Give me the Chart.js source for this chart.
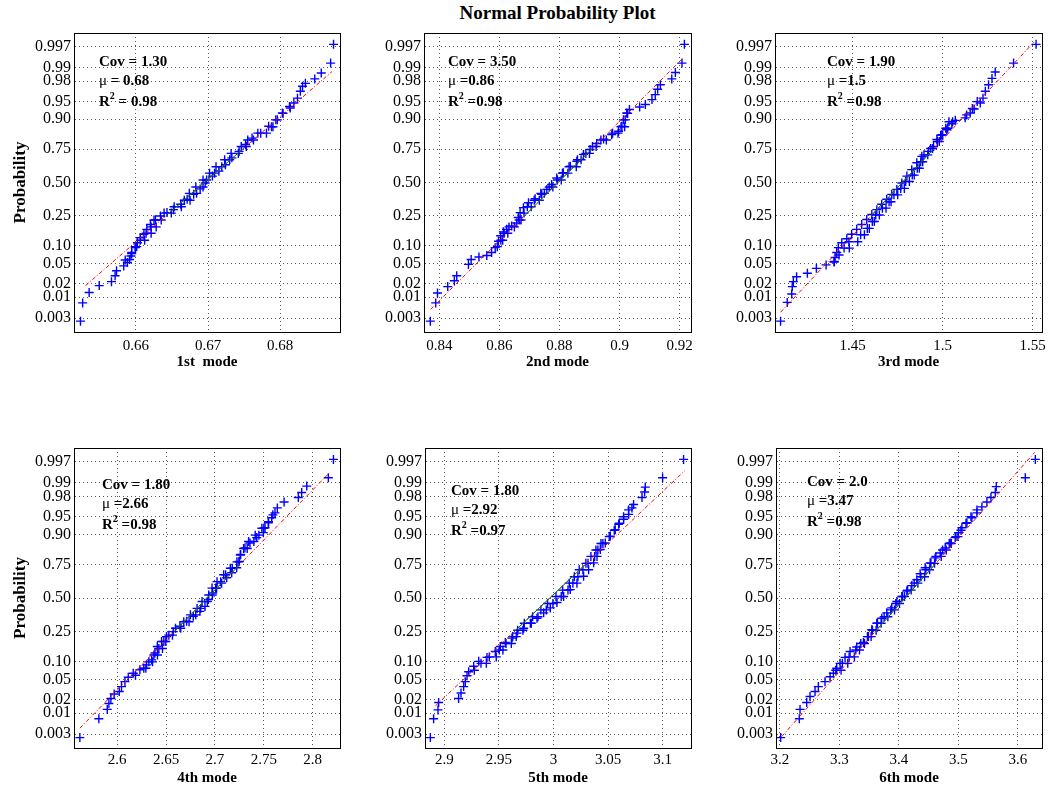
<!DOCTYPE html>
<html>
<head>
<meta charset="utf-8">
<script src="https://cdn.jsdelivr.net/npm/chart.js@4.4.1/dist/chart.umd.min.js"></script>
<style>
  body { margin: 0; background: #fff; overflow: hidden; width: 1049px; height: 789px; position: relative; }
  canvas { position: absolute; }
  #title { position: absolute; left: 0; top: 3px; width: 1115px; text-align: center;
           font: bold 19px "Liberation Serif", "Times New Roman", serif; line-height: 20px; }
</style>
</head>
<body>
<div id="title">Normal Probability Plot</div>
<script>
// probability axis ticks
const probTicks = [0.003, 0.01, 0.02, 0.05, 0.10, 0.25, 0.50, 0.75, 0.90, 0.95, 0.98, 0.99, 0.997];
const probLabels = ['0.003', '0.01', '0.02', '0.05', '0.10', '0.25', '0.50', '0.75', '0.90', '0.95', '0.98', '0.99', '0.997'];

const modeNames = ['1st  mode', '2nd mode', '3rd mode', '4th mode', '5th mode', '6th mode'];
const covText = ['1.30', '3.50', '1.90', '1.80', '1.80', '2.0'];
const muText = [' = 0.68', ' =0.86', ' =1.5', ' =2.66', ' =2.92', ' =3.47'];
const r2Text = [' = 0.98', ' =0.98', ' =0.98', ' =0.98', ' =0.97', ' =0.98'];

// x axis ticks and limits
const ticks1 = [0.66, 0.67, 0.68];
const ticks2 = [0.84, 0.86, 0.88, 0.9, 0.92];
const ticks3 = [1.45, 1.5, 1.55];
const ticks4 = [2.6, 2.65, 2.7, 2.75, 2.8];
const ticks5 = [2.9, 2.95, 3, 3.05, 3.1];
const ticks6 = [3.2, 3.3, 3.4, 3.5, 3.6];
const range1 = [0.6514, 0.6883];
const range2 = [0.8349, 0.9238];
const range3 = [1.4068, 1.5552];
const range4 = [2.5558, 2.8279];
const range5 = [2.8823, 3.1260];
const range6 = [3.1933, 3.6404];

// sample values (x) and their normal quantile (q) on the probability axis
const mode1X = [0.6523, 0.6526, 0.6535, 0.6549, 0.6566, 0.6571, 0.6573, 0.6583, 0.6588, 0.6591, 0.6593, 0.6594, 0.6599, 0.6602, 0.6606, 0.6611, 0.6615, 0.6620, 0.6627, 0.6634, 0.6643, 0.6652, 0.6662, 0.6671, 0.6680, 0.6689, 0.6696, 0.6706, 0.6715, 0.6724, 0.6733, 0.6743, 0.6752, 0.6761, 0.6773, 0.6784, 0.6794, 0.6803, 0.6814, 0.6819, 0.6824, 0.6828, 0.6831, 0.6835, 0.6848, 0.6857, 0.6870, 0.6874];
const mode1Q = [-2.81, -2.44, -2.23, -2.09, -2.01, -1.89, -1.79, -1.69, -1.62, -1.56, -1.49, -1.42, -1.32, -1.22, -1.12, -1.05, -0.95, -0.85, -0.76, -0.68, -0.61, -0.55, -0.44, -0.34, -0.24, -0.13, -0.01, 0.13, 0.23, 0.36, 0.50, 0.63, 0.77, 0.90, 1.00, 1.14, 1.27, 1.41, 1.51, 1.61, 1.71, 1.85, 1.95, 2.01, 2.10, 2.22, 2.42, 2.80];
// extra points inside the dense middle band
const band1X = [0.6585, 0.6594, 0.6599, 0.6601, 0.6606, 0.6612, 0.6614, 0.6621, 0.6621, 0.6628, 0.6625, 0.6635, 0.6639, 0.6649, 0.6653, 0.6663, 0.6667, 0.6675, 0.6674, 0.6684, 0.6683, 0.6693, 0.6693, 0.6698, 0.6702, 0.6709, 0.6711, 0.6719, 0.6723, 0.6730, 0.6732, 0.6742, 0.6746, 0.6753, 0.6755, 0.6763, 0.6769, 0.6781, 0.6788, 0.6790, 0.6796, 0.6804, 0.6813];
const band1Q = [-1.57, -1.44, -1.30, -1.30, -1.17, -1.17, -1.03, -1.03, -0.90, -0.90, -0.76, -0.76, -0.62, -0.62, -0.49, -0.49, -0.36, -0.36, -0.22, -0.22, -0.09, -0.09, 0.05, 0.05, 0.19, 0.19, 0.32, 0.32, 0.46, 0.46, 0.59, 0.59, 0.73, 0.73, 0.86, 0.86, 1.00, 1.00, 1.13, 1.13, 1.27, 1.40, 1.54];

const mode2X = [0.8370, 0.8388, 0.8394, 0.8428, 0.8450, 0.8458, 0.8497, 0.8506, 0.8532, 0.8558, 0.8574, 0.8586, 0.8597, 0.8604, 0.8613, 0.8624, 0.8641, 0.8658, 0.8663, 0.8669, 0.8680, 0.8697, 0.8719, 0.8741, 0.8758, 0.8774, 0.8791, 0.8813, 0.8836, 0.8858, 0.8880, 0.8902, 0.8924, 0.8947, 0.8974, 0.8997, 0.9008, 0.9013, 0.9024, 0.9033, 0.9067, 0.9086, 0.9108, 0.9119, 0.9127, 0.9136, 0.9174, 0.9186, 0.9208, 0.9216];
const mode2Q = [-2.81, -2.44, -2.24, -2.11, -1.99, -1.89, -1.66, -1.56, -1.51, -1.48, -1.42, -1.32, -1.19, -1.08, -1.00, -0.95, -0.88, -0.82, -0.71, -0.61, -0.51, -0.41, -0.33, -0.24, -0.14, -0.04, 0.09, 0.20, 0.33, 0.43, 0.57, 0.67, 0.79, 0.88, 0.97, 1.04, 1.14, 1.27, 1.41, 1.48, 1.53, 1.58, 1.68, 1.78, 1.89, 1.98, 2.10, 2.23, 2.42, 2.80];
const band2X = [0.8593, 0.8605, 0.8611, 0.8616, 0.8628, 0.8632, 0.8650, 0.8666, 0.8672, 0.8682, 0.8693, 0.8706, 0.8716, 0.8733, 0.8738, 0.8750, 0.8766, 0.8778, 0.8793, 0.8806, 0.8810, 0.8828, 0.8832, 0.8856, 0.8860, 0.8872, 0.8888, 0.8900, 0.8910, 0.8922, 0.8938, 0.8956, 0.8977, 0.8995, 0.9005, 0.9017, 0.9019, 0.9027];
const band2Q = [-1.30, -1.17, -1.17, -1.03, -1.03, -0.90, -0.90, -0.76, -0.76, -0.62, -0.49, -0.49, -0.36, -0.36, -0.22, -0.22, -0.09, -0.09, 0.05, 0.05, 0.19, 0.19, 0.32, 0.32, 0.46, 0.46, 0.59, 0.59, 0.73, 0.73, 0.86, 0.86, 1.00, 1.00, 1.13, 1.13, 1.27, 1.40];

const mode3X = [1.4099, 1.4136, 1.4161, 1.4164, 1.4170, 1.4188, 1.4248, 1.4298, 1.4352, 1.4398, 1.4402, 1.4411, 1.4420, 1.4439, 1.4467, 1.4494, 1.4522, 1.4550, 1.4578, 1.4606, 1.4634, 1.4661, 1.4689, 1.4717, 1.4745, 1.4773, 1.4801, 1.4828, 1.4856, 1.4884, 1.4921, 1.4949, 1.4968, 1.4995, 1.5023, 1.5051, 1.5070, 1.5125, 1.5153, 1.5175, 1.5209, 1.5224, 1.5237, 1.5255, 1.5274, 1.5292, 1.5394, 1.5519];
const mode3Q = [-2.81, -2.43, -2.26, -2.11, -2.01, -1.91, -1.84, -1.74, -1.67, -1.60, -1.52, -1.42, -1.32, -1.22, -1.14, -1.05, -0.95, -0.85, -0.75, -0.65, -0.55, -0.44, -0.34, -0.24, -0.14, -0.01, 0.13, 0.26, 0.40, 0.53, 0.63, 0.73, 0.87, 0.97, 1.07, 1.19, 1.26, 1.31, 1.41, 1.49, 1.61, 1.71, 1.85, 1.98, 2.11, 2.24, 2.42, 2.80];
const band3X = [1.4396, 1.4424, 1.4452, 1.4481, 1.4479, 1.4528, 1.4544, 1.4565, 1.4581, 1.4592, 1.4609, 1.4620, 1.4628, 1.4648, 1.4665, 1.4685, 1.4702, 1.4713, 1.4729, 1.4750, 1.4767, 1.4787, 1.4794, 1.4815, 1.4831, 1.4842, 1.4859, 1.4870, 1.4878, 1.4889, 1.4896, 1.4917, 1.4933, 1.4944, 1.4970, 1.4981, 1.4989, 1.5000, 1.5017, 1.5028, 1.5035, 1.5055, 1.5133, 1.5165, 1.5192];
const band3Q = [-1.61, -1.47, -1.33, -1.33, -1.20, -1.20, -1.06, -1.06, -0.93, -0.93, -0.79, -0.79, -0.66, -0.66, -0.52, -0.52, -0.39, -0.39, -0.25, -0.25, -0.12, -0.12, 0.02, 0.02, 0.15, 0.15, 0.29, 0.29, 0.42, 0.42, 0.56, 0.56, 0.69, 0.69, 0.83, 0.83, 0.96, 0.96, 1.10, 1.10, 1.23, 1.23, 1.37, 1.50, 1.64];

const mode4X = [2.5618, 2.5812, 2.5898, 2.5915, 2.5935, 2.5969, 2.6021, 2.6044, 2.6079, 2.6113, 2.6164, 2.6232, 2.6300, 2.6352, 2.6386, 2.6410, 2.6454, 2.6505, 2.6573, 2.6642, 2.6710, 2.6778, 2.6846, 2.6898, 2.6932, 2.6976, 2.7017, 2.7068, 2.7120, 2.7171, 2.7222, 2.7249, 2.7263, 2.7307, 2.7358, 2.7427, 2.7495, 2.7512, 2.7546, 2.7580, 2.7614, 2.7638, 2.7707, 2.7853, 2.7887, 2.7939, 2.8160, 2.8212];
const mode4Q = [-2.82, -2.44, -2.25, -2.13, -2.03, -1.94, -1.89, -1.79, -1.69, -1.60, -1.52, -1.45, -1.35, -1.25, -1.11, -0.98, -0.88, -0.78, -0.68, -0.57, -0.47, -0.37, -0.27, -0.17, -0.03, 0.10, 0.20, 0.30, 0.41, 0.51, 0.61, 0.74, 0.88, 1.01, 1.11, 1.22, 1.32, 1.42, 1.52, 1.62, 1.72, 1.82, 1.94, 2.03, 2.13, 2.26, 2.43, 2.80];
const band4X = [2.6187, 2.6272, 2.6293, 2.6324, 2.6361, 2.6375, 2.6412, 2.6426, 2.6463, 2.6477, 2.6497, 2.6528, 2.6565, 2.6596, 2.6650, 2.6681, 2.6735, 2.6749, 2.6803, 2.6817, 2.6854, 2.6868, 2.6922, 2.6936, 2.6973, 2.6970, 2.7007, 2.7021, 2.7058, 2.7089, 2.7109, 2.7157, 2.7177, 2.7225, 2.7245, 2.7259, 2.7293, 2.7330, 2.7344, 2.7398, 2.7412, 2.7449, 2.7480, 2.7500, 2.7548, 2.7592];
const band4Q = [-1.56, -1.42, -1.42, -1.29, -1.29, -1.15, -1.15, -1.02, -1.02, -0.88, -0.88, -0.75, -0.75, -0.61, -0.61, -0.48, -0.48, -0.34, -0.34, -0.21, -0.21, -0.07, -0.07, 0.06, 0.06, 0.20, 0.20, 0.33, 0.33, 0.47, 0.47, 0.60, 0.60, 0.73, 0.73, 0.87, 1.00, 1.00, 1.14, 1.14, 1.27, 1.27, 1.41, 1.41, 1.54, 1.68];

const mode5X = [2.8872, 2.8902, 2.8942, 2.8948, 2.9131, 2.9153, 2.9177, 2.9192, 2.9208, 2.9223, 2.9269, 2.9315, 2.9391, 2.9467, 2.9513, 2.9559, 2.9620, 2.9666, 2.9727, 2.9788, 2.9849, 2.9910, 2.9971, 3.0032, 3.0093, 3.0154, 3.0215, 3.0276, 3.0322, 3.0368, 3.0399, 3.0429, 3.0475, 3.0521, 3.0566, 3.0597, 3.0643, 3.0689, 3.0719, 3.0734, 3.0811, 3.0835, 3.0841, 3.1000, 3.1192];
const mode5Q = [-2.82, -2.44, -2.26, -2.11, -2.03, -1.92, -1.79, -1.69, -1.57, -1.49, -1.38, -1.28, -1.20, -1.08, -0.98, -0.90, -0.81, -0.71, -0.61, -0.51, -0.41, -0.30, -0.20, -0.09, 0.03, 0.17, 0.30, 0.44, 0.57, 0.71, 0.84, 0.98, 1.11, 1.25, 1.38, 1.49, 1.59, 1.69, 1.82, 1.89, 2.03, 2.14, 2.24, 2.43, 2.80];
const band5X = [2.9275, 2.9336, 2.9385, 2.9412, 2.9476, 2.9504, 2.9537, 2.9565, 2.9614, 2.9626, 2.9659, 2.9672, 2.9720, 2.9733, 2.9797, 2.9809, 2.9858, 2.9885, 2.9934, 2.9946, 2.9995, 3.0023, 3.0071, 3.0084, 3.0133, 3.0145, 3.0178, 3.0191, 3.0224, 3.0236, 3.0270, 3.0297, 3.0316, 3.0343, 3.0377, 3.0389, 3.0407, 3.0435, 3.0453, 3.0511, 3.0557, 3.0603, 3.0642, 3.0688];
const band5Q = [-1.46, -1.32, -1.32, -1.19, -1.19, -1.05, -1.05, -0.92, -0.92, -0.78, -0.78, -0.65, -0.65, -0.51, -0.51, -0.38, -0.38, -0.24, -0.24, -0.11, -0.11, 0.03, 0.03, 0.16, 0.16, 0.30, 0.30, 0.43, 0.43, 0.57, 0.57, 0.70, 0.70, 0.84, 0.84, 0.97, 0.97, 1.10, 1.10, 1.24, 1.37, 1.51, 1.64, 1.78];

const mode6X = [3.2011, 3.2325, 3.2337, 3.2449, 3.2505, 3.2589, 3.2645, 3.2757, 3.2842, 3.2898, 3.2954, 3.3010, 3.3094, 3.3178, 3.3290, 3.3403, 3.3487, 3.3543, 3.3627, 3.3711, 3.3795, 3.3879, 3.3964, 3.4048, 3.4132, 3.4216, 3.4300, 3.4356, 3.4440, 3.4525, 3.4609, 3.4693, 3.4777, 3.4861, 3.4945, 3.5001, 3.5058, 3.5142, 3.5226, 3.5310, 3.5394, 3.5478, 3.5546, 3.5619, 3.5635, 3.6123, 3.6292];
const mode6Q = [-2.82, -2.44, -2.25, -2.11, -1.99, -1.89, -1.79, -1.69, -1.59, -1.52, -1.42, -1.32, -1.20, -1.08, -0.99, -0.90, -0.78, -0.64, -0.51, -0.41, -0.30, -0.20, -0.07, 0.03, 0.14, 0.25, 0.37, 0.49, 0.61, 0.71, 0.81, 0.91, 1.01, 1.11, 1.22, 1.32, 1.42, 1.52, 1.62, 1.72, 1.84, 1.94, 2.03, 2.13, 2.25, 2.43, 2.80];
const band6X = [3.2937, 3.3027, 3.3049, 3.3139, 3.3162, 3.3251, 3.3274, 3.3336, 3.3358, 3.3420, 3.3470, 3.3532, 3.3554, 3.3616, 3.3639, 3.3700, 3.3751, 3.3813, 3.3863, 3.3925, 3.3947, 3.4009, 3.4059, 3.4093, 3.4144, 3.4205, 3.4256, 3.4318, 3.4368, 3.4430, 3.4452, 3.4514, 3.4537, 3.4598, 3.4621, 3.4710, 3.4733, 3.4795, 3.4845, 3.4879, 3.4957, 3.4991, 3.5042, 3.5126, 3.5210, 3.5311];
const band6Q = [-1.46, -1.46, -1.32, -1.32, -1.19, -1.19, -1.05, -1.05, -0.92, -0.92, -0.78, -0.78, -0.65, -0.65, -0.51, -0.51, -0.38, -0.38, -0.24, -0.24, -0.11, -0.11, 0.03, 0.03, 0.16, 0.16, 0.30, 0.30, 0.43, 0.43, 0.57, 0.57, 0.70, 0.70, 0.84, 0.84, 0.97, 0.97, 1.10, 1.10, 1.24, 1.24, 1.37, 1.51, 1.64, 1.78];

// reference (fit) line end points
const fit1X = [0.6530, 0.6872], fit1Q = [-2.09, 2.25];
const fit2X = [0.8371, 0.9208], fit2Q = [-2.57, 2.50];
const fit3X = [1.4099, 1.5506], fit3Q = [-2.63, 2.84];
const fit4X = [2.5618, 2.8171], fit4Q = [-2.63, 2.53];
const fit5X = [2.8918, 3.1202], fit5Q = [-2.18, 2.57];
const fit6X = [3.2028, 3.6280], fit6Q = [-2.80, 2.94];

const panels = [
  { x: mode1X.concat(band1X), q: mode1Q.concat(band1Q), fitX: fit1X, fitQ: fit1Q, ticks: ticks1, range: range1 },
  { x: mode2X.concat(band2X), q: mode2Q.concat(band2Q), fitX: fit2X, fitQ: fit2Q, ticks: ticks2, range: range2 },
  { x: mode3X.concat(band3X), q: mode3Q.concat(band3Q), fitX: fit3X, fitQ: fit3Q, ticks: ticks3, range: range3 },
  { x: mode4X.concat(band4X), q: mode4Q.concat(band4Q), fitX: fit4X, fitQ: fit4Q, ticks: ticks4, range: range4 },
  { x: mode5X.concat(band5X), q: mode5Q.concat(band5Q), fitX: fit5X, fitQ: fit5Q, ticks: ticks5, range: range5 },
  { x: mode6X.concat(band6X), q: mode6Q.concat(band6Q), fitX: fit6X, fitQ: fit6Q, ticks: ticks6, range: range6 }
];

// where each plot box sits on the page, and where its stats text goes
const boxes = [
  { left: 74,  top: 33,  w: 266, h: 299, textDx: 25, textDy: 29, yTitle: true },
  { left: 424, top: 33,  w: 267, h: 299, textDx: 24, textDy: 29, yTitle: false },
  { left: 775, top: 33,  w: 267, h: 299, textDx: 52, textDy: 29, yTitle: false },
  { left: 74,  top: 448, w: 266, h: 300, textDx: 28, textDy: 37, yTitle: true },
  { left: 425, top: 448, w: 266, h: 300, textDx: 26, textDy: 43, yTitle: false },
  { left: 776, top: 448, w: 266, h: 300, textDx: 31, textDy: 34, yTitle: false }
];

const serif = '"Liberation Serif", "Times New Roman", serif';
const Y_AXIS_W = 74, X_AXIS_H = 50, PAD_TOP = 30, PAD_RIGHT = 12;

// inverse normal CDF (Acklam)
function probit(p) {
  const a = [-39.69683028665376, 220.9460984245205, -275.9285104469687, 138.3577518672690, -30.66479806614716, 2.506628277459239];
  const b = [-54.47609879822406, 161.5858368580409, -155.6989798598866, 66.80131188771972, -13.28068155288572];
  const c = [-0.007784894002430293, -0.3223964580411365, -2.400758277161838, -2.549671348133569, 4.374664141464968, 2.938163982698783];
  const d = [0.007784695709041462, 0.3224671290700398, 2.445134137142996, 3.754408661907416];
  const lo = 0.02425;
  if (p < lo || p > 1 - lo) {
    const t = Math.sqrt(-2 * Math.log(p < lo ? p : 1 - p));
    const v = (((((c[0] * t + c[1]) * t + c[2]) * t + c[3]) * t + c[4]) * t + c[5]) /
              ((((d[0] * t + d[1]) * t + d[2]) * t + d[3]) * t + 1);
    return p < lo ? v : -v;
  }
  const q = p - 0.5, r = q * q;
  return (((((a[0] * r + a[1]) * r + a[2]) * r + a[3]) * r + a[4]) * r + a[5]) * q /
         (((((b[0] * r + b[1]) * r + b[2]) * r + b[3]) * r + b[4]) * r + 1);
}

const framePlugin = {
  id: 'frame',
  afterDraw(chart) {
    const { ctx, chartArea: a } = chart;
    ctx.save();
    ctx.strokeStyle = '#000';
    ctx.lineWidth = 1;
    ctx.strokeRect(Math.round(a.left) + 0.5, Math.round(a.top) + 0.5,
                   Math.round(a.right - a.left), Math.round(a.bottom - a.top));
    ctx.restore();
  }
};

const statsPlugin = {
  id: 'stats',
  afterDraw(chart, args, opts) {
    const { ctx, chartArea } = chart;
    const x = chartArea.left + opts.dx;
    let y = chartArea.top + opts.dy;
    ctx.save();
    ctx.fillStyle = '#000';
    ctx.textBaseline = 'middle';
    ctx.textAlign = 'left';
    const bold = 'bold 15px ' + serif;
    ctx.font = bold;
    ctx.fillText('Cov = ' + opts.cov, x, y);
    y += 19;
    ctx.font = '15px ' + serif;
    ctx.fillText('\u03bc', x, y);
    let w = ctx.measureText('\u03bc').width;
    ctx.font = bold;
    ctx.fillText(opts.mu, x + w, y);
    y += 21;
    ctx.fillText('R', x, y);
    w = ctx.measureText('R').width;
    ctx.font = 'bold 10px ' + serif;
    ctx.fillText('2', x + w, y - 6);
    w += ctx.measureText('2').width;
    ctx.font = bold;
    ctx.fillText(opts.r2, x + w, y);
    ctx.restore();
  }
};

panels.forEach((p, i) => {
  const box = boxes[i];
  const canvas = document.createElement('canvas');
  const cw = Y_AXIS_W + box.w + PAD_RIGHT;
  const ch = PAD_TOP + box.h + X_AXIS_H;
  canvas.width = cw;
  canvas.height = ch;
  canvas.style.left = (box.left - Y_AXIS_W) + 'px';
  canvas.style.top = (box.top - PAD_TOP) + 'px';
  canvas.style.width = cw + 'px';
  canvas.style.height = ch + 'px';
  document.body.appendChild(canvas);

  const points = p.x.map((v, k) => ({ x: v, y: p.q[k] }));
  const fitLine = p.fitX.map((v, k) => ({ x: v, y: p.fitQ[k] }));
  // solid part of the reference line between the quartiles
  const slope = (p.fitX[1] - p.fitX[0]) / (p.fitQ[1] - p.fitQ[0]);
  const quartLine = [0.25, 0.75].map(pr => {
    const z = probit(pr);
    return { x: p.fitX[0] + (z - p.fitQ[0]) * slope, y: z };
  });

  new Chart(canvas, {
    type: 'scatter',
    data: {
      datasets: [
        { data: fitLine, showLine: true, borderColor: '#ff0000', borderWidth: 1,
          borderDash: [4, 2, 1, 2], pointRadius: 0, order: 1 },
        { data: quartLine, showLine: true, borderColor: '#008000', borderWidth: 1,
          pointRadius: 0, order: 0 },
        { data: points, pointStyle: 'cross', pointRadius: 4.5, borderWidth: 1.4,
          borderColor: '#0000ff', backgroundColor: '#0000ff', order: 2 }
      ]
    },
    options: {
      responsive: false,
      animation: false,
      events: [],
      layout: { padding: { left: 0, right: PAD_RIGHT, top: PAD_TOP, bottom: 0 } },
      plugins: {
        legend: { display: false },
        tooltip: { enabled: false },
        stats: { dx: box.textDx, dy: box.textDy, cov: covText[i], mu: muText[i], r2: r2Text[i] }
      },
      scales: {
        x: {
          type: 'linear',
          min: p.range[0],
          max: p.range[1],
          afterBuildTicks: s => { s.ticks = p.ticks.map(v => ({ value: v })); },
          afterFit: s => { s.height = X_AXIS_H; s.paddingLeft = 0; s.paddingRight = 0; },
          ticks: { autoSkip: false, maxRotation: 0, padding: i < 3 ? 5 : 3, color: '#000',
                   font: { family: serif, size: 15 }, callback: v => String(v) },
          grid: { color: '#555', lineWidth: 1, drawTicks: false },
          border: { display: true, color: '#000', dash: [1, 3] },
          title: { display: true, text: modeNames[i], color: '#000',
                   font: { family: serif, size: 15, weight: 'bold' }, padding: { top: 0, bottom: 11 } }
        },
        y: {
          type: 'linear',
          min: -3.03,
          max: 3.03,
          afterBuildTicks: s => { s.ticks = probTicks.map(pr => ({ value: probit(pr) })); },
          afterFit: s => { s.width = Y_AXIS_W; s.paddingTop = 0; s.paddingBottom = 0; },
          ticks: { autoSkip: false, padding: 3, color: '#000',
                   font: { family: serif, size: 16 }, callback: (v, k) => probLabels[k] },
          grid: { color: '#555', lineWidth: 1, drawTicks: false },
          border: { display: true, color: '#000', dash: [1, 3] },
          title: { display: box.yTitle, text: 'Probability', color: '#000',
                   font: { family: serif, size: 17, weight: 'bold' }, padding: { top: 10, bottom: 0 } }
        }
      }
    },
    plugins: [framePlugin, statsPlugin]
  });
});
</script>
</body>
</html>
